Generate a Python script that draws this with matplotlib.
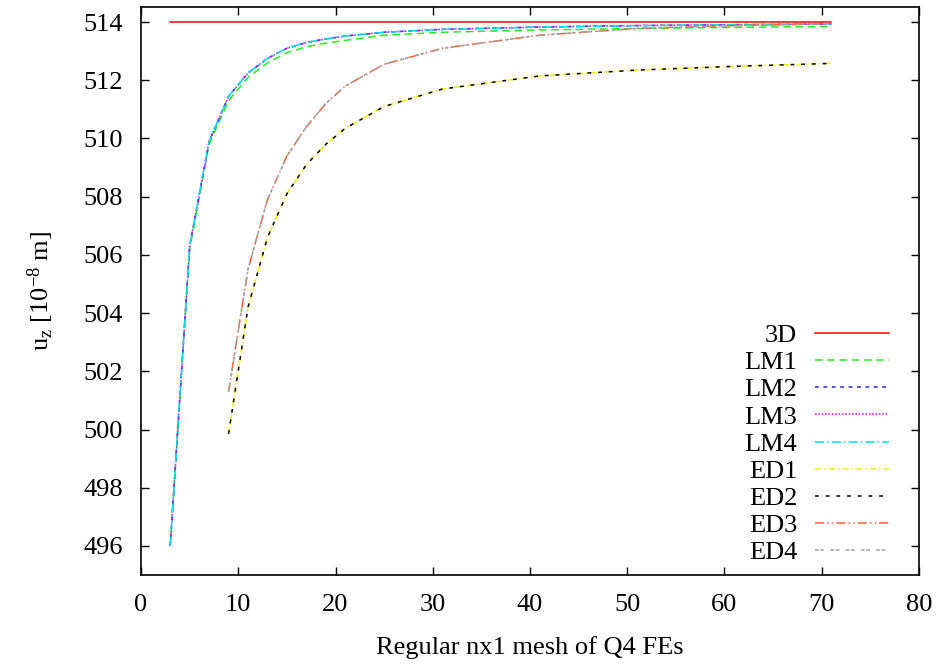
import numpy as np
import matplotlib
matplotlib.use('Agg')
import matplotlib.pyplot as plt

plt.rcParams.update({'font.family': 'Liberation Serif', 'font.size': 19,
                     'mathtext.fontset': 'custom',
                     'mathtext.rm': 'Liberation Serif',
                     'mathtext.it': 'Liberation Serif:italic'})

x_3d = [3, 71]
uz_3d = [514.0, 514.0]

x_lm = [3, 5, 7, 9, 11, 13, 15, 17, 19, 21, 25, 31, 41, 51, 61, 71]
lm1 = [496.0, 506.2, 509.8, 511.3, 512.1, 512.6, 512.95, 513.15, 513.28, 513.37,
       513.55, 513.65, 513.73, 513.78, 513.82, 513.85]
lm2 = [496.0, 506.3, 509.9, 511.45, 512.25, 512.75, 513.1, 513.3, 513.42, 513.52,
       513.65, 513.75, 513.83, 513.88, 513.91, 513.93]
lm3 = lm2
lm4 = lm2

x_ed = [9, 11, 13, 15, 17, 19, 21, 25, 31, 41, 51, 61, 71]
ed1 = [499.85, 504.2, 506.6, 508.1, 509.1, 509.8, 510.35, 511.1, 511.7, 512.15,
       512.35, 512.48, 512.58]
ed2 = ed1
ed3 = [501.3, 505.5, 507.9, 509.4, 510.4, 511.2, 511.8, 512.55, 513.1, 513.55,
       513.78, 513.88, 513.95]
ed4 = ed3

fig = plt.figure(figsize=(9.44, 6.66), dpi=100)
ax = fig.add_axes([0.1494, 0.1366, 0.8241, 0.8534])

ax.plot(x_3d, uz_3d, color='red', lw=1.1, label='3D')
ax.plot(x_lm, lm1, color='#22ee22', lw=1.1, dashes=(5, 3), label='LM1')
ax.plot(x_lm, lm2, color='#2222ff', lw=1.1, dashes=(2.5, 3), label='LM2')
ax.plot(x_lm, lm3, color='#ff00ff', lw=1.1, dashes=(1, 1.2), label='LM3')
ax.plot(x_lm, lm4, color='#00e0e0', lw=1.1, dashes=(6, 2, 1, 2), label='LM4')
ax.plot(x_ed, ed1, color='#f0f000', lw=1.1, dashes=(4, 2, 1, 2), label='ED1')
ax.plot(x_ed, ed2, color='black', lw=1.1, dashes=(2.5, 4.5), label='ED2')
ax.plot(x_ed, ed3, color='#ff6030', lw=1.1, dashes=(6, 2, 1, 2, 1, 2), label='ED3')
ax.plot(x_ed, ed4, color='#a0a0a0', lw=1.1, dashes=(2.5, 1, 2.5, 4), label='ED4')

ax.set_xlim(0, 80)
ax.set_ylim(495, 514.53)
ax.set_xticks(range(0, 81, 10))
ax.set_yticks(range(496, 515, 2))
ax.tick_params(direction='in', length=6, width=1, top=True, right=True, pad=14)
ax.tick_params(axis='y', pad=13)
for s in ax.spines.values():
    s.set_linewidth(1.2)

ax.set_xlabel('Regular nx1 mesh of Q4 FEs', labelpad=14)
ax.set_ylabel(r'u$_\mathregular{z}$ [10$^\mathregular{-8}$ m]', labelpad=20)

leg = ax.legend(loc='lower right', frameon=False, markerfirst=False,
                handlelength=2.8, handletextpad=0.68, labelspacing=0.14,
                borderpad=0.4, borderaxespad=0.0, bbox_to_anchor=(0.975, 0.0))

fig.savefig('out.png', dpi=100)
